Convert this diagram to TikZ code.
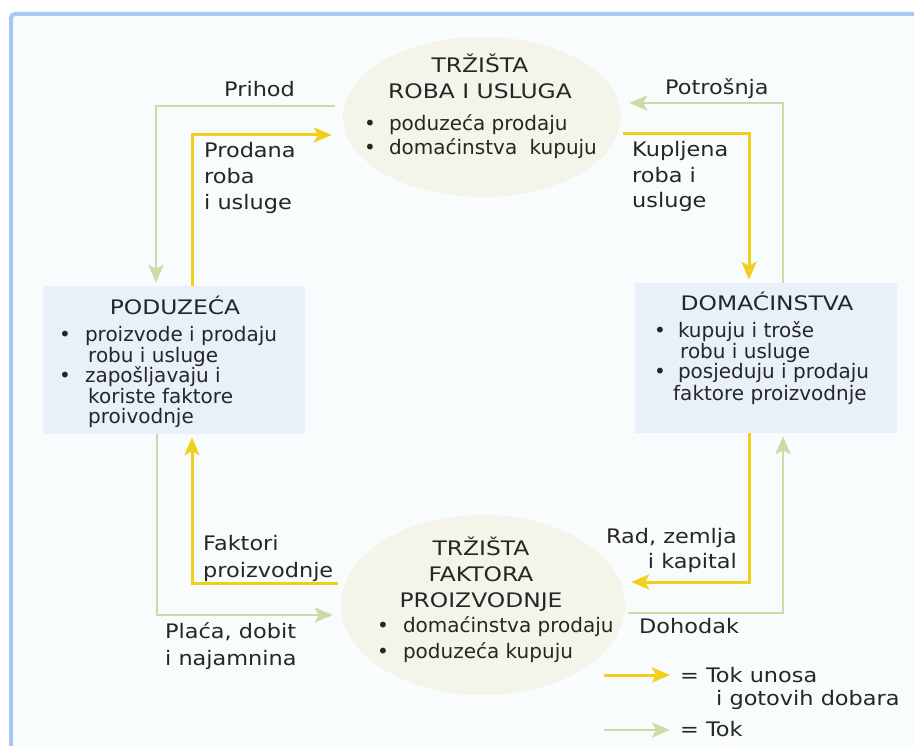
\documentclass[tikz,border=0pt]{standalone}
\usepackage{fontspec}
\setmainfont[FakeStretch=1.12]{DejaVu Sans}
\newfontfamily\listfont{DejaVu Sans}
\newfontfamily\capsfont[FakeStretch=1.17]{DejaVu Sans}
\usetikzlibrary{arrows.meta,shapes.geometric}
\definecolor{flowyellow}{HTML}{F2CF1D}
\definecolor{flowgreen}{HTML}{C8DEA6}
\definecolor{marketfill}{HTML}{F5F4EA}
\definecolor{sectorfill}{HTML}{E8F1FA}
\definecolor{framefill}{HTML}{F9FCFD}
\definecolor{frameblue}{HTML}{A6C8F2}
\definecolor{inkgray}{HTML}{262626}
\begin{document}
\begin{tikzpicture}[x=1pt,y=-1pt,
	txt/.style={inner sep=0pt, text=inkgray, align=left, font=\fontsize{20}{26}\selectfont},
	caps/.style={txt, align=center, font=\capsfont\fontsize{20}{26}\selectfont},
	market/.style={ellipse, fill=marketfill, inner sep=0pt},
	sector/.style={rectangle, fill=sectorfill, inner sep=0pt},
	goodsflow/.style={draw=flowyellow, line width=3pt, -{Stealth[length=18pt,width=15pt,inset=4pt]}, shorten >=3pt},
	moneyflow/.style={draw=flowgreen, line width=2.5pt, -{Stealth[length=18pt,width=15pt,inset=4pt]}, shorten >=3pt}]
	\useasboundingbox (0,0) rectangle (914,746);
	\clip (0,0) rectangle (914,746);
	\fill[white] (0,0) rectangle (914,746);
	\fill[framefill] (11,14) rectangle (930,760);
	\draw[frameblue, line width=4pt, rounded corners=4pt] (11,770) -- (11,14) -- (930,14);
	
	\node[market, minimum width=278pt, minimum height=160pt] (goods) at (482,117) {};
	\node[market, minimum width=284pt, minimum height=180pt] (factors) at (483,605) {};
	\node[sector, minimum width=262pt, minimum height=148pt] (firms) at (174,360) {};
	\node[sector, minimum width=262pt, minimum height=150pt] (homes) at (766,358) {};
	
	\node[caps, anchor=base] (goodstitle) at (480,99) {TRŽIŠTA\\ROBA I USLUGA};
	\node[txt, anchor=base west, font=\listfont\fontsize{20}{24.5}\selectfont] (goodslist) at (364,155)
		{•\hspace{13pt}poduzeća prodaju\\•\hspace{13pt}domaćinstva\hspace{6pt} kupuju};
	
	\node[caps, anchor=base] (firmstitle) at (175,315) {PODUZEĆA};
	\node[txt, anchor=base west, font=\listfont\fontsize{20}{20.5}\selectfont] (firmslist) at (59,424)
		{•\hspace{14pt}proizvode i prodaju\\\hspace{29pt}robu i usluge\\•\hspace{14pt}zapošljavaju i\\\hspace{29pt}koriste faktore\\\hspace{29pt}proivodnje};
	
	\node[caps, anchor=base] (homestitle) at (767,311) {DOMAĆINSTVA};
	\node[txt, anchor=base west, font=\listfont\fontsize{20}{21}\selectfont] (homeslist) at (654,400)
		{•\hspace{12pt}kupuju i troše\\\hspace{26pt}robu i usluge\\•\hspace{12pt}posjeduju i prodaju\\\hspace{19pt}faktore proizvodnje};
	
	\node[caps, anchor=base] (factorstitle) at (481,607) {TRŽIŠTA\\FAKTORA\\PROIZVODNJE};
	\node[txt, anchor=base west, font=\listfont\fontsize{20}{26}\selectfont] (factorslist) at (377,658)
		{•\hspace{14pt}domaćinstva prodaju\\•\hspace{14pt}poduzeća kupuju};
	
	\node[txt, anchor=base west] (prihod) at (224,97) {Prihod};
	\node[txt, anchor=base west] (prodana) at (204,210) {Prodana\\roba\\i usluge};
	\node[txt, anchor=base west] (potrosnja) at (665,95) {Potrošnja};
	\node[txt, anchor=base west, font=\fontsize{20}{25.5}\selectfont] (kupljena) at (632,208) {Kupljena\\roba i\\usluge};
	\node[txt, anchor=base west, font=\fontsize{20}{27}\selectfont] (faktori) at (203,577) {Faktori\\proizvodnje};
	\node[txt, anchor=base west, font=\fontsize{20}{27}\selectfont] (placa) at (165,665) {Plaća, dobit\\i najamnina};
	\node[txt, anchor=base east, align=right, font=\fontsize{20}{25}\selectfont] (rad) at (737,568) {Rad, zemlja\\i kapital};
	\node[txt, anchor=base west] (dohodak) at (639,633) {Dohodak};
	
	% gornji krug
	\draw[moneyflow] ([shift={(-8pt,11pt)}]goods.west) -| ([xshift=-18pt]firms.north);
	\draw[goodsflow] ([xshift=18pt]firms.north) |- ([shift={(-8pt,-18pt)}]goods.west);
	\draw[goodsflow] ([shift={(2pt,-17pt)}]goods.east) -| ([xshift=-17pt]homes.north);
	\draw[moneyflow] ([xshift=17pt]homes.north) |- ([shift={(5pt,14pt)}]goods.east);
	
	% donji krug
	\draw[goodsflow] ([shift={(-3pt,22pt)}]factors.west) -| ([xshift=18pt]firms.south);
	\draw[moneyflow] ([xshift=-17pt]firms.south) |- ([shift={(-5pt,-10pt)}]factors.west);
	\draw[goodsflow] ([xshift=-17pt]homes.south) |- ([shift={(3pt,23pt)}]factors.east);
	\draw[moneyflow] ([shift={(3pt,-8pt)}]factors.east) -| ([xshift=17pt]homes.south);
	
	\coordinate (ly1) at (604,675);
	\coordinate (ly2) at (670,675);
	\coordinate (lg1) at (604,730);
	\coordinate (lg2) at (670,730);
	\draw[goodsflow, shorten >=0pt] (ly1) -- (ly2);
	\draw[moneyflow, shorten >=0pt] (lg1) -- (lg2);
	\node[txt, anchor=base west, font=\fontsize{20}{23}\selectfont] (legendgoods) at (680,705) {= Tok unosa\\\hspace{36pt}i gotovih dobara};
	\node[txt, anchor=base west] (legendmoney) at (680,736) {= Tok};
\end{tikzpicture}
\end{document}
